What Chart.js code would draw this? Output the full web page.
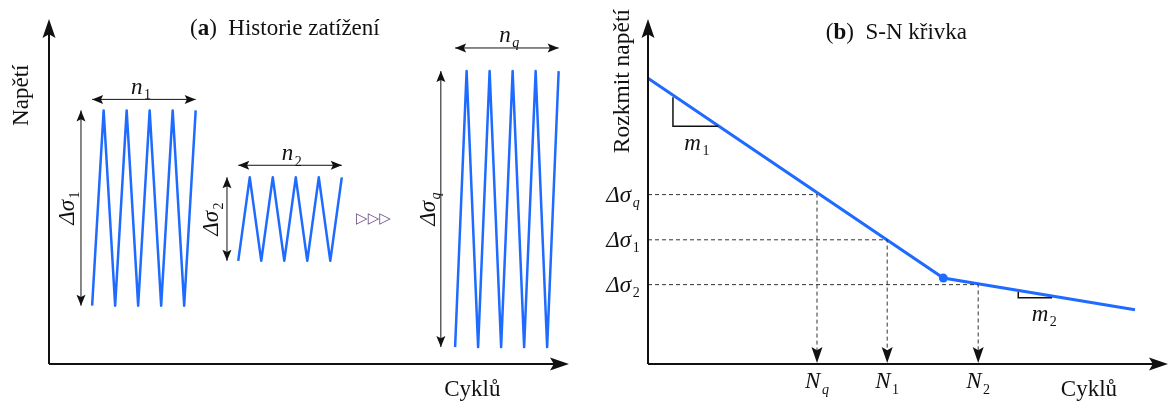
<!DOCTYPE html>
<html>
<head>
<meta charset="utf-8">
<script src="https://cdn.jsdelivr.net/npm/chart.js@4.4.1/dist/chart.umd.min.js"></script>
<style>
  html, body { margin: 0; padding: 0; background: #fff; }
  #wrap { position: relative; width: 1171px; height: 404px; }
  #left { position: absolute; left: 0; top: 0; width: 585px; height: 404px; }
  #right { position: absolute; left: 585px; top: 0; width: 586px; height: 404px; }
</style>
</head>
<body>
<div id="wrap">
  <canvas id="left" width="585" height="404"></canvas>
  <canvas id="right" width="586" height="404"></canvas>
</div>
<script>
// (a) Historie zatížení: x in half-cycles, y in stress units
const block1X = [3.75, 4.75, 5.75, 6.75, 7.75, 8.75, 9.75, 10.75, 11.75, 12.75];
const block1Y = [16.9, 73.5, 16.9, 73.5, 16.9, 73.5, 16.9, 73.5, 16.9, 73.5];
const block2X = [16.45, 17.45, 18.45, 19.45, 20.45, 21.45, 22.45, 23.45, 24.45, 25.45];
const block2Y = [29.9, 54.1, 29.9, 54.1, 29.9, 54.1, 29.9, 54.1, 29.9, 54.1];
const blockQX = [35.3, 36.3, 37.3, 38.3, 39.3, 40.3, 41.3, 42.3, 43.3, 44.3];
const blockQY = [4.9, 84.9, 4.9, 84.9, 4.9, 84.9, 4.9, 84.9, 4.9, 84.9];
const countLabels = [['n', '1'], ['n', '2'], ['n', 'q']];
const rangeLabels = [['Δσ', '1'], ['Δσ', '2'], ['Δσ', 'q']];

// (b) S-N křivka: x = log N, y = log Δσ
const snLogN = [0, 56.8, 93.65];
const snLogS = [82.85, 24.9, 15.7];
const levelLabels = [['Δσ', 'q'], ['Δσ', '1'], ['Δσ', '2']];
const levelValues = [49.1, 36.0, 23.0];
const lifeLabels = [['N', 'q'], ['N', '1'], ['N', '2']];
const lifeValues = [32.5, 46.0, 63.5];
const slope1X = [4.8, 4.8, 13.5];
const slope1Y = [77.3, 68.9, 68.9];
const slope2X = [71.2, 71.2, 77.7];
const slope2Y = [20.9, 19.2, 19.2];

const blue = '#1f6bff';
const ink = '#111';
const serif = '"Liberation Serif", "DejaVu Serif", serif';

function pts(xs, ys) {
  return xs.map((x, i) => ({ x: x, y: ys[i] }));
}

function head(ctx, x, y, ang, len, wid) {
  ctx.save();
  ctx.translate(x, y);
  ctx.rotate(ang);
  ctx.beginPath();
  ctx.moveTo(0, 0);
  ctx.lineTo(-len, -wid / 2);
  ctx.lineTo(-len * 0.8, 0);
  ctx.lineTo(-len, wid / 2);
  ctx.closePath();
  ctx.fill();
  ctx.restore();
}

function math(ctx, parts, x, y, size, align, rot) {
  const base = parts[0], sub = parts[1];
  ctx.save();
  ctx.translate(x, y);
  if (rot) ctx.rotate(rot);
  const fb = 'italic ' + size + 'px ' + serif;
  const fs = (/[a-z]/.test(sub) ? 'italic ' : '') + Math.round(size * 0.62) + 'px ' + serif;
  ctx.font = fb;
  const wb = ctx.measureText(base).width;
  ctx.font = fs;
  const ws = ctx.measureText(sub).width;
  const tot = wb + ws + 1.5;
  const x0 = align === 'right' ? -tot : -tot / 2;
  ctx.textAlign = 'left';
  ctx.textBaseline = 'alphabetic';
  ctx.font = fb;
  ctx.fillText(base, x0, size * 0.33);
  ctx.font = fs;
  ctx.fillText(sub, x0 + wb + 1.5, size * 0.55);
  ctx.restore();
}

function plain(ctx, s, x, y, size, rot) {
  ctx.save();
  ctx.translate(x, y);
  if (rot) ctx.rotate(rot);
  ctx.font = size + 'px ' + serif;
  ctx.textAlign = 'center';
  ctx.textBaseline = 'middle';
  ctx.fillText(s, 0, 0);
  ctx.restore();
}

function title(ctx, letter, rest, x, y, size) {
  ctx.save();
  ctx.textAlign = 'left';
  ctx.textBaseline = 'middle';
  let cx = x;
  const pieces = [['(', ''], [letter, 'bold '], [')', ''], ['  ' + rest, '']];
  pieces.forEach(p => {
    ctx.font = p[1] + size + 'px ' + serif;
    ctx.fillText(p[0], cx, y);
    cx += ctx.measureText(p[0]).width;
  });
  ctx.restore();
}

function axes(ctx, area) {
  ctx.save();
  ctx.strokeStyle = ink;
  ctx.fillStyle = ink;
  ctx.lineWidth = 2;
  ctx.beginPath();
  ctx.moveTo(area.left, area.bottom);
  ctx.lineTo(area.left, area.top + 12);
  ctx.moveTo(area.left, area.bottom);
  ctx.lineTo(area.right - 12, area.bottom);
  ctx.stroke();
  head(ctx, area.left, area.top, -Math.PI / 2, 19, 13);
  head(ctx, area.right, area.bottom, 0, 19, 13);
  ctx.restore();
}

function dimArrow(ctx, x1, y1, x2, y2) {
  const ang = Math.atan2(y2 - y1, x2 - x1);
  ctx.beginPath();
  ctx.moveTo(x1, y1);
  ctx.lineTo(x2, y2);
  ctx.stroke();
  head(ctx, x2, y2, ang, 11, 9);
  head(ctx, x1, y1, ang + Math.PI, 11, 9);
}

const baseOptions = (pad, xmax) => ({
  responsive: false,
  animation: false,
  layout: { padding: pad },
  plugins: { legend: { display: false }, tooltip: { enabled: false } },
  scales: {
    x: { type: 'linear', display: false, min: 0, max: xmax },
    y: { type: 'linear', display: false, min: 0, max: 100 }
  }
});

// ---------- (a) load history ----------
const blocksX = [block1X, block2X, blockQX];
const blocksY = [block1Y, block2Y, blockQY];
const countArrowY = [76.7, 57.6, 91.6];
const countLabelPos = [[8.0, 80.6], [21.1, 61.2], [40.0, 95.6]];
const rangeArrowX = [2.78, 15.47, 34.06];
const rangeLabelX = [1.55, 14.05, 32.85];

const historyPlugin = {
  id: 'history',
  afterDatasetsDraw(chart) {
    const ctx = chart.ctx, sx = chart.scales.x, sy = chart.scales.y;
    axes(ctx, chart.chartArea);
    ctx.save();
    ctx.strokeStyle = ink;
    ctx.fillStyle = ink;
    ctx.lineWidth = 1;
    blocksX.forEach((bx, i) => {
      const by = blocksY[i];
      const ay = sy.getPixelForValue(countArrowY[i]);
      dimArrow(ctx, sx.getPixelForValue(bx[0]), ay, sx.getPixelForValue(bx[bx.length - 1]), ay);
      const ax = sx.getPixelForValue(rangeArrowX[i]);
      dimArrow(ctx, ax, sy.getPixelForValue(Math.max(...by)), ax, sy.getPixelForValue(Math.min(...by)));
      math(ctx, countLabels[i], sx.getPixelForValue(countLabelPos[i][0]), sy.getPixelForValue(countLabelPos[i][1]), 23, 'center');
      const midY = (Math.max(...by) + Math.min(...by)) / 2;
      math(ctx, rangeLabels[i], sx.getPixelForValue(rangeLabelX[i]), sy.getPixelForValue(midY), 23, 'center', -Math.PI / 2);
    });
    ctx.fillStyle = '#6d4f86';
    ctx.font = '15px "DejaVu Sans", sans-serif';
    ctx.textAlign = 'center';
    ctx.textBaseline = 'middle';
    ctx.fillText('▷▷▷', sx.getPixelForValue(28.2), sy.getPixelForValue(41.9));
    ctx.fillStyle = ink;
    title(ctx, 'a', 'Historie zatížení', sx.getPixelForValue(12.26), sy.getPixelForValue(97.1), 23);
    plain(ctx, 'Napětí', sx.getPixelForValue(-2.35), sy.getPixelForValue(77.9), 23, -Math.PI / 2);
    plain(ctx, 'Cyklů', sx.getPixelForValue(36.8), sy.getPixelForValue(-7.6), 23);
    ctx.restore();
  }
};

new Chart(document.getElementById('left'), {
  type: 'line',
  data: {
    datasets: blocksX.map((bx, i) => ({
      data: pts(bx, blocksY[i]),
      borderColor: blue,
      borderWidth: 2.5,
      borderJoinStyle: 'round',
      pointRadius: 0,
      tension: 0,
      clip: false
    }))
  },
  options: baseOptions({ left: 49, top: 19, right: 16, bottom: 40 }, 45.2),
  plugins: [historyPlugin]
});

// ---------- (b) S-N curve ----------
const snPlugin = {
  id: 'sn',
  afterDatasetsDraw(chart) {
    const ctx = chart.ctx, sx = chart.scales.x, sy = chart.scales.y;
    axes(ctx, chart.chartArea);
    ctx.save();
    ctx.fillStyle = ink;
    lifeValues.forEach((n, i) => {
      const x = sx.getPixelForValue(n);
      head(ctx, x, sy.getPixelForValue(0) - 1, Math.PI / 2, 16, 11);
      math(ctx, lifeLabels[i], x, sy.getPixelForValue(-4.9), 23, 'center');
    });
    levelValues.forEach((s, i) => {
      math(ctx, levelLabels[i], sx.getPixelForValue(-1.6), sy.getPixelForValue(s), 23, 'right');
    });
    math(ctx, ['m', '1'], sx.getPixelForValue(9.4), sy.getPixelForValue(64.2), 23, 'center');
    math(ctx, ['m', '2'], sx.getPixelForValue(76.2), sy.getPixelForValue(14.8), 23, 'center');
    title(ctx, 'b', 'S-N křivka', sx.getPixelForValue(34.2), sy.getPixelForValue(95.9), 23);
    plain(ctx, 'Rozkmit napětí', sx.getPixelForValue(-4.8), sy.getPixelForValue(82), 23.5, -Math.PI / 2);
    plain(ctx, 'Cyklů', sx.getPixelForValue(84.8), sy.getPixelForValue(-7.6), 23);
    ctx.restore();
  }
};

const guideSets = levelValues.map((s, i) => ({
  data: [{ x: 0, y: s }, { x: lifeValues[i], y: s }, { x: lifeValues[i], y: 4 }],
  borderColor: '#333',
  borderWidth: 1,
  borderDash: [4, 3],
  pointRadius: 0,
  tension: 0,
  clip: false
}));

new Chart(document.getElementById('right'), {
  type: 'line',
  data: {
    datasets: guideSets.concat([
      {
        data: pts(slope1X, slope1Y),
        borderColor: ink,
        borderWidth: 1.5,
        pointRadius: 0,
        tension: 0,
        clip: false
      },
      {
        data: pts(slope2X, slope2Y),
        borderColor: ink,
        borderWidth: 1.5,
        pointRadius: 0,
        tension: 0,
        clip: false
      },
      {
        data: pts(snLogN, snLogS),
        borderColor: blue,
        backgroundColor: blue,
        borderWidth: 3,
        pointRadius: [0, 4.5, 0],
        pointBorderWidth: 0,
        tension: 0,
        clip: false
      }
    ])
  },
  options: baseOptions({ left: 63, top: 19, right: 3, bottom: 40 }, 100),
  plugins: [snPlugin]
});
</script>
</body>
</html>
